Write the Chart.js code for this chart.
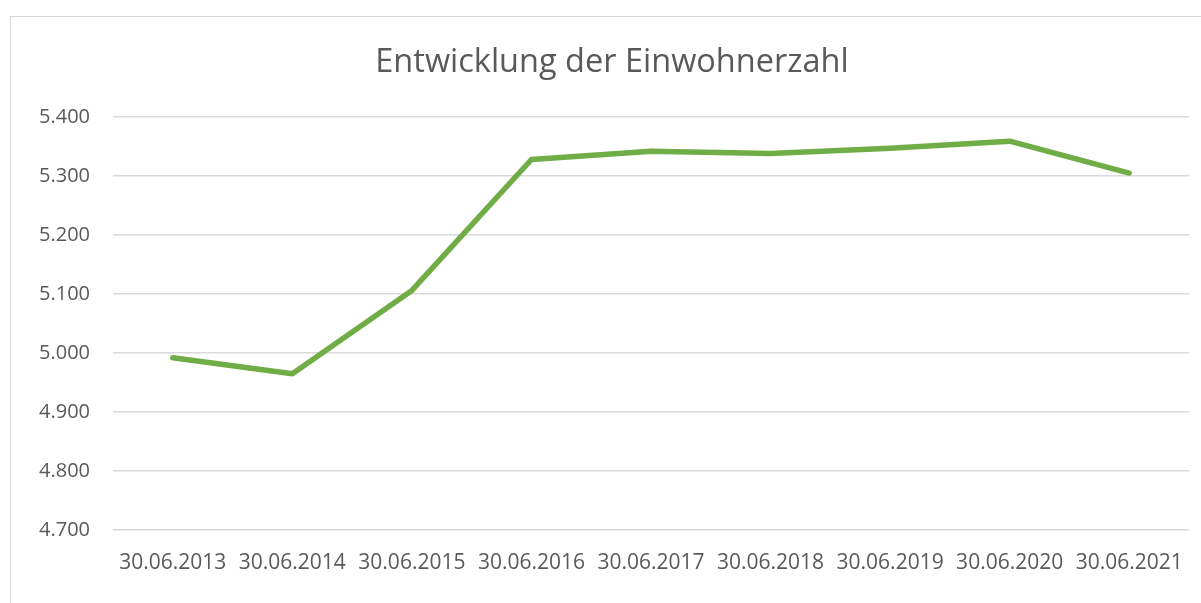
<!DOCTYPE html>
<html>
<head>
<meta charset="utf-8">
<script src="https://cdn.jsdelivr.net/npm/chart.js@4/dist/chart.umd.min.js"></script>
<style>
  body { margin: 0; overflow: hidden; background: #fff; }
  #frame { position: absolute; left: 10px; top: 16px; width: 1300px; height: 700px; border: 1px solid #d9d9d9; }
  #wrap { position: absolute; left: 0; top: 0; width: 1201px; height: 603px; }
</style>
</head>
<body>
<div id="frame"></div>
<div id="wrap"><canvas id="chart"></canvas></div>
<script>
// Stichtage und Einwohnerzahlen
const dates = ['30.06.2013', '30.06.2014', '30.06.2015', '30.06.2016', '30.06.2017',
               '30.06.2018', '30.06.2019', '30.06.2020', '30.06.2021'];
const residents = [4992, 4965, 5106, 5328, 5342, 5338, 5347, 5359, 5305];
const yTicks = [4700, 4800, 4900, 5000, 5100, 5200, 5300, 5400];

const textColor = '#595959';
const fontFamily = '"Open Sans", sans-serif';

// Zahl mit Tausenderpunkt formatieren
function formatNumber(v) {
    return String(v).replace(/\B(?=(\d{3})+(?!\d))/g, '.');
}

new Chart(document.querySelector('#chart').getContext('2d'), {
    type: 'line',
    data: {
        labels: dates,
        datasets: [{
            label: 'Einwohner',
            data: residents,
            borderColor: '#70ad47',
            backgroundColor: '#70ad47',
            borderWidth: 5.5,
            borderCapStyle: 'round',
            borderJoinStyle: 'round',
            pointRadius: 0,
            tension: 0
        }]
    },
    options: {
        responsive: true,
        maintainAspectRatio: false,
        animation: false,
        layout: { padding: { left: 35, right: 12, top: 0, bottom: 0 } },
        plugins: {
            legend: { display: false },
            tooltip: { enabled: false },
            title: {
                display: true,
                text: 'Entwicklung der Einwohnerzahl',
                color: textColor,
                font: { family: fontFamily, size: 32.5, weight: 'normal', lineHeight: 1.2 },
                padding: { top: 43, bottom: 35 }
            }
        },
        scales: {
            x: {
                offset: true,
                grid: { display: false },
                border: { display: false },
                ticks: {
                    color: textColor,
                    font: { family: fontFamily, size: 21 },
                    padding: 12,
                    maxRotation: 0,
                    autoSkip: false
                },
                afterFit: scale => { scale.height = 73; }
            },
            y: {
                min: yTicks[0],
                max: yTicks[yTicks.length - 1],
                grid: { color: '#d9d9d9', lineWidth: 1.5, drawTicks: false },
                border: { display: false },
                afterBuildTicks: scale => { scale.ticks = yTicks.map(v => ({ value: v })); },
                ticks: {
                    color: textColor,
                    font: { family: fontFamily, size: 20 },
                    padding: 23,
                    callback: v => formatNumber(v)
                },
                afterFit: scale => { scale.width = 78; }
            }
        }
    }
});
</script>
</body>
</html>
